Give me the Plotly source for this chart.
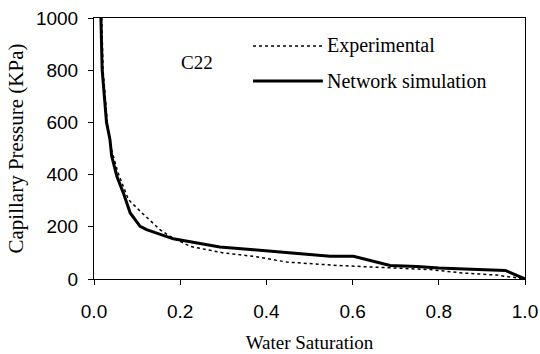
import plotly.graph_objects as go

# Experimental capillary pressure curve
sw_exp = [0.018, 0.021, 0.031, 0.040, 0.055, 0.072, 0.080, 0.107, 0.153, 0.176, 0.223,
          0.269, 0.30, 0.369, 0.447, 0.563, 0.687, 0.78, 0.856, 0.934, 1.0]
pc_exp = [1000, 800, 600, 500, 410, 342, 304, 260, 189, 164, 125,
          110, 100, 87, 65, 52, 42, 36, 23, 15, 0]

# Network simulation curve
sw_sim = [0.016, 0.019, 0.029, 0.037, 0.041, 0.053, 0.068, 0.084, 0.107, 0.122, 0.184,
          0.27, 0.292, 0.37, 0.447, 0.548, 0.602, 0.625, 0.687, 0.749, 0.80, 0.86, 0.954, 1.0]
pc_sim = [1000, 800, 600, 535, 471, 394, 330, 253, 202, 189, 154,
          130, 123, 112, 100, 87, 87, 77, 52, 48, 42, 38, 33, 0]

x_ticks = [0.0, 0.2, 0.4, 0.6, 0.8, 1.0]
y_ticks = [0, 200, 400, 600, 800, 1000]

serif = "Liberation Serif, Times New Roman, serif"
sans = "Liberation Sans, Arial, sans-serif"

fig = go.Figure()
fig.add_trace(go.Scatter(x=sw_exp, y=pc_exp, mode="lines", name="Experimental",
                         line=dict(color="black", width=1.5, dash="3px,3px"),
                         showlegend=False))
fig.add_trace(go.Scatter(x=sw_sim, y=pc_sim, mode="lines", name="Network simulation",
                         line=dict(color="black", width=3),
                         showlegend=False))

# manual legend
fig.add_shape(type="line", xref="paper", yref="paper", x0=0.369, x1=0.531, y0=0.893, y1=0.893,
              line=dict(color="black", width=1.5, dash="3px,3px"))
fig.add_shape(type="line", xref="paper", yref="paper", x0=0.369, x1=0.531, y0=0.759, y1=0.759,
              line=dict(color="black", width=3))
fig.add_annotation(xref="paper", yref="paper", x=0.536, y=0.893, text="Experimental",
                   showarrow=False, xanchor="left", yanchor="middle",
                   font=dict(family=serif, size=20, color="black"))
fig.add_annotation(xref="paper", yref="paper", x=0.536, y=0.759, text="Network simulation",
                   showarrow=False, xanchor="left", yanchor="middle",
                   font=dict(family=serif, size=20, color="black"))
fig.add_annotation(xref="paper", yref="paper", x=0.239, y=0.831, text="C22",
                   showarrow=False, xanchor="center", yanchor="middle",
                   font=dict(family=serif, size=19, color="black"))

fig.update_layout(
    width=540, height=354,
    margin=dict(l=94, r=15, t=18, b=75),
    paper_bgcolor="white", plot_bgcolor="white",
    font=dict(family=sans, size=19, color="black"),
    xaxis=dict(range=[0, 1], tickvals=x_ticks, tickformat=".1f", automargin=False,
               showgrid=False, zeroline=False, showline=True, mirror=True,
               linecolor="black", linewidth=1, ticks="outside", ticklen=5,
               tickcolor="black", ticklabelstandoff=10,
               title=dict(text="Water Saturation", font=dict(family=serif, size=19), standoff=14)),
    yaxis=dict(range=[0, 1000], tickvals=y_ticks, automargin=False,
               showgrid=False, zeroline=False, showline=True, mirror=True,
               linecolor="black", linewidth=1, ticks="outside", ticklen=5,
               tickcolor="black", ticklabelstandoff=6,
               title=dict(text="Capillary Pressure (KPa)", font=dict(family=serif, size=21), standoff=6)),
)

fig.write_html("out.html")
